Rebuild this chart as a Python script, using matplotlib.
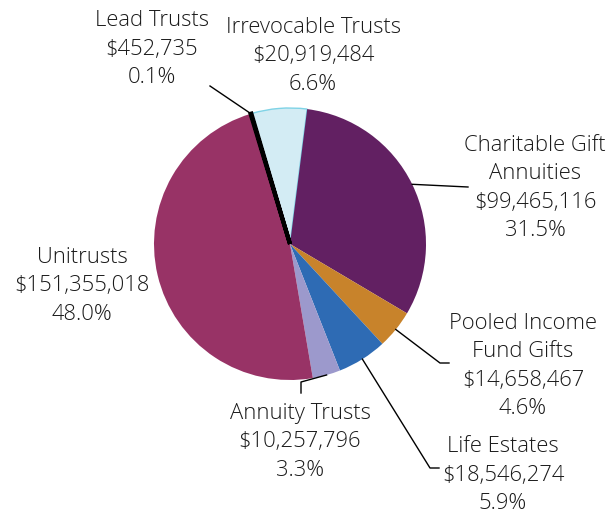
import matplotlib.pyplot as plt
import numpy as np

plt.rcParams['font.family'] = ['Open Sans', 'DejaVu Sans']

names = ['Irrevocable Trusts', 'Charitable Gift\nAnnuities', 'Pooled Income\nFund Gifts',
         'Life Estates', 'Annuity Trusts', 'Unitrusts', 'Lead Trusts']
amounts = ['$20,919,484', '$99,465,116', '$14,658,467', '$18,546,274',
           '$10,257,796', '$151,355,018', '$452,735']
shares = [6.6, 31.5, 4.6, 5.9, 3.3, 48.0, 0.1]
colors = ['#D3ECF4', '#622062', '#C8832B', '#2E6BB4', '#9C99CC', '#983366', '#FFF4D0']

W, H = 616, 514
fig = plt.figure(figsize=(W / 100, H / 100), dpi=100)
ax = fig.add_axes([0, 0, 1, 1])

cx, cy, rad = 290, H - 244, 136
start = 106.5
wedges, _ = ax.pie(shares, colors=colors, startangle=start, counterclock=False,
                   center=(cx, cy), radius=rad, frame=True,
                   wedgeprops=dict(linewidth=0))
ax.set_xlim(0, W)
ax.set_ylim(0, H)
ax.set_aspect('equal')
ax.axis('off')
wedges[0].set_edgecolor('#7FD3E6')
wedges[0].set_linewidth(1)
wedges[6].set_edgecolor('black')
wedges[6].set_linewidth(3)

# label centres (image pixels) and leader line bends
label_pos = [(313, 56), (535, 188), (523, 366), (503, 475), (300, 442), (82, 286), (152, 49)]
leaders = [None, [(468, 187)], [(440, 363), (449, 363)], [(430, 468), (439, 468)],
           [(301, 382), (301, 393)], None, [(210, 86)]]

def edge_point(i):
    cum = np.cumsum([0] + shares)
    mid = start - 3.6 * (cum[i] + shares[i] / 2)
    a = np.radians(mid)
    return cx + rad * np.cos(a), cy + rad * np.sin(a)

for i, (n, amt, s) in enumerate(zip(names, amounts, shares)):
    x, y = label_pos[i]
    ax.text(x, H - y, f'{n}\n{amt}\n{s:.1f}%', ha='center', va='center',
            fontsize=15.8, fontweight='light', color='#1a1a1a', linespacing=1.47)
    if leaders[i]:
        px, py = edge_point(i)
        xs = [px] + [p[0] for p in leaders[i]]
        ys = [py] + [H - p[1] for p in leaders[i]]
        ax.plot(xs, ys, color='black', lw=1)

fig.savefig('out.png', dpi=100)
